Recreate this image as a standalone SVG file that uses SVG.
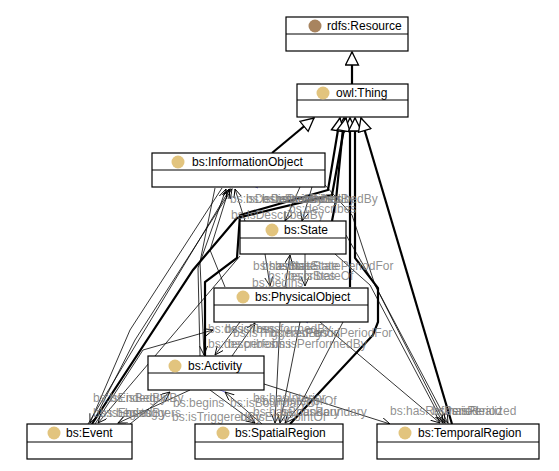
<svg xmlns="http://www.w3.org/2000/svg" width="559" height="471" viewBox="0 0 559 471">
<style>
.box{fill:#fff;stroke:#000;stroke-width:1.2}
.div{stroke:#000;stroke-width:1}
.t{font-family:"Liberation Sans",Arial,sans-serif;font-size:12px;fill:#000}
.ic{fill:#e2c47e}
.sc{fill:none;stroke:#000;stroke-width:2.2;marker-end:url(#tri)}
.op{fill:none;stroke:#000;stroke-width:0.8;marker-end:url(#arr)}
.bl{stroke:#4a4ad8;stroke-width:0.8}
.lb{font-family:"Liberation Sans",Arial,sans-serif;font-size:12px;fill:#7c7c7c;fill-opacity:0.85}
</style>
<defs>
<marker id="tri" markerUnits="userSpaceOnUse" markerWidth="18" markerHeight="18" refX="14" refY="7.5" orient="auto">
<path d="M1,1 L14,7.5 L1,14 z" fill="#fff" stroke="#000" stroke-width="1.3"/>
</marker>
<marker id="arr" markerUnits="userSpaceOnUse" markerWidth="10" markerHeight="10" refX="9" refY="4" orient="auto">
<path d="M0,0 L9,4 L0,8" fill="none" stroke="#000" stroke-width="0.9"/>
</marker>
</defs>
<rect width="559" height="471" fill="#fff"/>
<g id="connectors">
<!-- subclass edges -->
<path class="sc" d="M352,84 L352,52"/>
<path class="sc" d="M272,153 L314,118"/>
<path class="sc" d="M332,221 L336,200 L344,118"/>
<path class="sc" d="M350,287 L350,118"/>
<path class="sc" d="M205,356 L205,282 L237,258 L240,215 L328,190 L340,118"/>
<path class="sc" d="M92,424 L193,270 L237,218 L332,195 L346,118"/>
<path class="sc" d="M290,424 L373,335 L378,322 L378,288 L355,258 L355,118"/>
<path class="sc" d="M452,424 L361,118"/>
<!-- object properties -->
<path class="op" d="M88,424 L230,189"/>
<path class="op" d="M92,424 L135,340 L232,189"/>
<path class="op" d="M200,356 L198,268 L226,189"/>
<path class="op" d="M245,221 L235,189"/>
<path class="op" d="M225,287 L210,250 L229,189"/>
<path class="op" d="M300,187 L285,221"/>
<path class="op" d="M312,187 L302,221"/>
<path class="op" d="M215,188 L200,262 L204,355"/>
<path class="op" d="M222,188 L130,330 L90,423"/>
<path class="op" d="M240,256 L98,423"/>
<path class="op" d="M95,424 L143,350 L213,330"/>
<path class="op" d="M190,390 L118,423"/>
<path class="op" d="M130,424 L170,392"/>
<path class="op" d="M210,390 L255,423"/>
<path class="op" d="M262,424 L225,392"/>
<path class="op" d="M265,254 L270,286"/>
<path class="op" d="M285,287 L290,255"/>
<path class="op" d="M305,254 L305,286"/>
<path class="op" d="M240,322 L215,355"/>
<path class="op" d="M232,356 L255,323"/>
<path class="op" d="M280,322 L275,423"/>
<path class="op" d="M300,322 L280,423"/>
<path class="op" d="M346,235 L376,287 L445,423"/>
<path class="op" d="M325,185 L352,215 L375,285 L448,423"/>
<path class="op" d="M335,254 L370,285 L443,423"/>
<path class="op" d="M320,322 L440,423"/>
<path class="op" d="M264,384 L390,424"/>
<path class="op" d="M343,322 L300,405 L285,423"/>
<line class="bl" x1="247" y1="183" x2="258" y2="188"/>
<line class="bl" x1="300" y1="318" x2="308" y2="323"/>
<line class="bl" x1="213" y1="387" x2="225" y2="392"/>
</g>
<g id="labels">
<text class="lb" x="230" y="203">bs:isDescribedBy</text>
<text class="lb" x="246" y="203">bs:isDescribedBy</text>
<text class="lb" x="262" y="203">bs:isDescribedBy</text>
<text class="lb" x="275" y="203">bs:describes</text>
<text class="lb" x="285" y="203">bs:isDescribedBy</text>
<text class="lb" x="289" y="213">bs:describes</text>
<text class="lb" x="231" y="219">bs:isDescribedBy</text>
<text class="lb" x="253" y="270">bs:hasState</text>
<text class="lb" x="262" y="270">bs:ends</text>
<text class="lb" x="275" y="270">bs:hasState</text>
<text class="lb" x="288" y="270">bs:isStatePeriodFor</text>
<text class="lb" x="268" y="280">bs:describes</text>
<text class="lb" x="288" y="280">bs:isStateOf</text>
<text class="lb" x="252" y="287">bs:begins</text>
<text class="lb" x="208" y="333">bs:describes</text>
<text class="lb" x="225" y="333">bs:isTransformedBy</text>
<text class="lb" x="233" y="337">bs:isTriggeredBy</text>
<text class="lb" x="270" y="337">bs:hasPeriod</text>
<text class="lb" x="315" y="337">bs:isPeriodFor</text>
<text class="lb" x="208" y="348">bs:describes</text>
<text class="lb" x="228" y="348">bs:performs</text>
<text class="lb" x="272" y="348">bs:isPerformedBy</text>
<text class="lb" x="93" y="402">bs:isEndedBy</text>
<text class="lb" x="110" y="402">bs:isBegunBy</text>
<text class="lb" x="173" y="407">bs:begins</text>
<text class="lb" x="230" y="407">bs:isBoundaryOf</text>
<text class="lb" x="253" y="402">bs:hasInterior</text>
<text class="lb" x="262" y="405">bs:isInteriorOf</text>
<text class="lb" x="253" y="416">bs:hasBoundary</text>
<text class="lb" x="280" y="416">bs:hasBoundary</text>
<text class="lb" x="172" y="421">bs:isTriggeredBy</text>
<text class="lb" x="240" y="421">bs:isEndPointOf</text>
<text class="lb" x="93" y="417">bs:isEndedBy</text>
<text class="lb" x="100" y="417">bs:begins</text>
<text class="lb" x="125" y="417">bs:triggers</text>
<text class="lb" x="390" y="415">bs:hasRefPeriod</text>
<text class="lb" x="432" y="415">bs:hasPeriod</text>
<text class="lb" x="445" y="415">bs:isRealized</text>
</g>
<g id="rdfs_Resource">
<rect class="box" x="286" y="17" width="122" height="34"/>
<line class="div" x1="286" y1="34" x2="408" y2="34"/>
<circle cx="315" cy="26" r="6.5" fill="#a8845f"/>
<text class="t" x="327" y="30">rdfs:Resource</text>
</g>
<g id="owl_Thing">
<rect class="box" x="297" y="84" width="111" height="33"/>
<line class="div" x1="297" y1="100" x2="408" y2="100"/>
<circle class="ic" cx="323" cy="93" r="6.5"/>
<text class="t" x="336" y="97">owl:Thing</text>
</g>
<g id="bs_InformationObject">
<rect class="box" x="152" y="153" width="173" height="34"/>
<line class="div" x1="152" y1="170" x2="325" y2="170"/>
<circle class="ic" cx="178" cy="162" r="6.5"/>
<text class="t" x="192" y="166">bs:InformationObject</text>
</g>
<g id="bs_State">
<rect class="box" x="240" y="221" width="106" height="33"/>
<line class="div" x1="240" y1="238" x2="346" y2="238"/>
<circle class="ic" cx="272" cy="230" r="6.5"/>
<text class="t" x="284" y="234">bs:State</text>
</g>
<g id="bs_PhysicalObject">
<rect class="box" x="214" y="288" width="154" height="34"/>
<line class="div" x1="214" y1="305" x2="368" y2="305"/>
<circle class="ic" cx="243" cy="297" r="6.5"/>
<text class="t" x="255" y="301">bs:PhysicalObject</text>
</g>
<g id="bs_Activity">
<rect class="box" x="148" y="356" width="116" height="34"/>
<line class="div" x1="148" y1="373" x2="264" y2="373"/>
<circle class="ic" cx="175" cy="366" r="6.5"/>
<text class="t" x="188" y="370">bs:Activity</text>
</g>
<g id="bs_Event">
<rect class="box" x="27" y="424" width="105" height="35"/>
<line class="div" x1="27" y1="442" x2="132" y2="442"/>
<circle class="ic" cx="54" cy="433" r="6.5"/>
<text class="t" x="66" y="437">bs:Event</text>
</g>
<g id="bs_SpatialRegion">
<rect class="box" x="195" y="424" width="148" height="35"/>
<line class="div" x1="195" y1="442" x2="343" y2="442"/>
<circle class="ic" cx="223" cy="433" r="6.5"/>
<text class="t" x="235" y="437">bs:SpatialRegion</text>
</g>
<g id="bs_TemporalRegion">
<rect class="box" x="377" y="424" width="162" height="35"/>
<line class="div" x1="377" y1="442" x2="539" y2="442"/>
<circle class="ic" cx="405" cy="433" r="6.5"/>
<text class="t" x="418" y="437">bs:TemporalRegion</text>
</g>
</svg>
